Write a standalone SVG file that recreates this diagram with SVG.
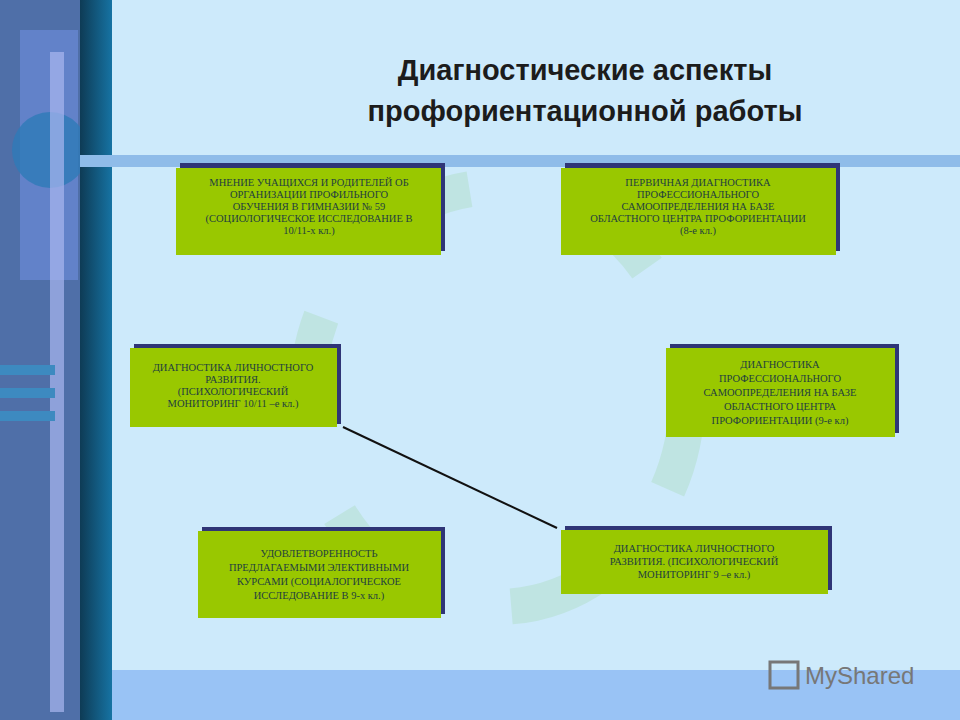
<svg xmlns="http://www.w3.org/2000/svg" width="960" height="720" viewBox="0 0 960 720">
<defs>
<linearGradient id="strip" x1="0" x2="1" y1="0" y2="0"><stop offset="0" stop-color="#0e3b55"/><stop offset="1" stop-color="#1673a3"/></linearGradient>
<style>
.box{fill:#99c800}
.sh{fill:#2f3576}
.t{font-family:"Liberation Serif",serif;font-size:10.5px;fill:#1f3f3f;text-anchor:middle}
</style>
</defs>
<rect width="960" height="720" fill="#cdeafb"/>
<rect x="0" y="0" width="80" height="720" fill="#4f6fa8"/>
<rect x="20" y="30" width="58" height="250" fill="#6f8fe0" opacity="0.6"/>
<circle cx="50" cy="150" r="38" fill="#2e7ab8" opacity="0.8"/>
<rect x="50" y="52" width="14" height="660" fill="#a9b6f0" opacity="0.7"/>
<rect x="0" y="365" width="55" height="10" fill="#3d8ac0"/>
<rect x="0" y="388" width="55" height="10" fill="#3d8ac0"/>
<rect x="0" y="411" width="55" height="10" fill="#3d8ac0"/>
<rect x="80" y="0" width="32" height="720" fill="url(#strip)"/>
<rect x="80" y="155" width="880" height="12" fill="#8fbce9"/>
<rect x="112" y="670" width="848" height="50" fill="#99c3f5"/>
<text x="585" y="80" font-family="Liberation Sans,sans-serif" font-weight="bold" font-size="29" fill="#1c1c1c" text-anchor="middle">Диагностические  аспекты</text>
<text x="585" y="121" font-family="Liberation Sans,sans-serif" font-weight="bold" font-size="29" fill="#1c1c1c" text-anchor="middle">профориентационной  работы</text>
<ellipse cx="497" cy="397" rx="190" ry="210" fill="none" stroke="#bfe4e2" stroke-width="36" stroke-dasharray="95 110"/>
<g id="connectors"><line x1="343" y1="427" x2="557" y2="528" stroke="#111" stroke-width="2"/></g>
<g id="n1"><rect class="sh" x="180" y="163" width="265" height="88"/><rect class="box" x="176" y="168" width="265" height="87"/>
<text class="t" x="309" y="186">МНЕНИЕ УЧАЩИХСЯ И РОДИТЕЛЕЙ ОБ</text><text class="t" x="309" y="198">ОРГАНИЗАЦИИ ПРОФИЛЬНОГО</text><text class="t" x="309" y="210">ОБУЧЕНИЯ В ГИМНАЗИИ № 59</text><text class="t" x="309" y="222">(СОЦИОЛОГИЧЕСКОЕ ИССЛЕДОВАНИЕ В</text><text class="t" x="309" y="234">10/11-х кл.)</text></g>
<g id="n2"><rect class="sh" x="565" y="163" width="275" height="88"/><rect class="box" x="561" y="168" width="275" height="87"/>
<text class="t" x="698" y="186">ПЕРВИЧНАЯ ДИАГНОСТИКА</text><text class="t" x="698" y="198">ПРОФЕССИОНАЛЬНОГО</text><text class="t" x="698" y="210">САМООПРЕДЕЛЕНИЯ НА БАЗЕ</text><text class="t" x="698" y="222">ОБЛАСТНОГО ЦЕНТРА ПРОФОРИЕНТАЦИИ</text><text class="t" x="698" y="234">(8-е кл.)</text></g>
<g id="n3"><rect class="sh" x="134" y="344" width="207" height="80"/><rect class="box" x="130" y="348" width="207" height="79"/>
<text class="t" x="233" y="371">ДИАГНОСТИКА ЛИЧНОСТНОГО</text><text class="t" x="233" y="383">РАЗВИТИЯ.</text><text class="t" x="233" y="395">(ПСИХОЛОГИЧЕСКИЙ</text><text class="t" x="233" y="407">МОНИТОРИНГ 10/11 –е кл.)</text></g>
<g id="n4"><rect class="sh" x="670" y="344" width="229" height="89"/><rect class="box" x="666" y="348" width="229" height="89"/>
<text class="t" x="780" y="368">ДИАГНОСТИКА</text><text class="t" x="780" y="382">ПРОФЕССИОНАЛЬНОГО</text><text class="t" x="780" y="396">САМООПРЕДЕЛЕНИЯ НА БАЗЕ</text><text class="t" x="780" y="410">ОБЛАСТНОГО ЦЕНТРА</text><text class="t" x="780" y="424">ПРОФОРИЕНТАЦИИ (9-е кл)</text></g>
<g id="n5"><rect class="sh" x="202" y="527" width="243" height="87"/><rect class="box" x="198" y="531" width="243" height="87"/>
<text class="t" x="319" y="557">УДОВЛЕТВОРЕННОСТЬ</text><text class="t" x="319" y="571">ПРЕДЛАГАЕМЫМИ ЭЛЕКТИВНЫМИ</text><text class="t" x="319" y="585">КУРСАМИ (СОЦИАЛОГИЧЕСКОЕ</text><text class="t" x="319" y="599">ИССЛЕДОВАНИЕ В 9-х кл.)</text></g>
<g id="n6"><rect class="sh" x="565" y="526" width="267" height="64"/><rect class="box" x="561" y="530" width="267" height="64"/>
<text class="t" x="694" y="552">ДИАГНОСТИКА ЛИЧНОСТНОГО</text><text class="t" x="694" y="565">РАЗВИТИЯ. (ПСИХОЛОГИЧЕСКИЙ</text><text class="t" x="694" y="578">МОНИТОРИНГ 9 –е кл.)</text></g>
<text x="805" y="684" font-family="Liberation Sans,sans-serif" font-size="24" fill="#777">MyShared</text>
<rect x="770" y="662" width="28" height="26" fill="none" stroke="#777" stroke-width="3"/>
</svg>
